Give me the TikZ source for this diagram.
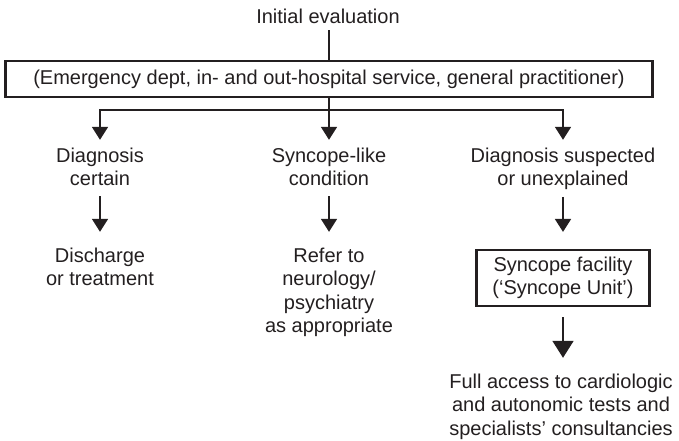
\documentclass[tikz,border=0pt]{standalone}
\usepackage{fontspec}
\setmainfont{Liberation Sans}
\usetikzlibrary{arrows.meta}
\definecolor{ink}{RGB}{35,31,32}
\begin{document}
\begin{tikzpicture}[x=1pt,y=-1pt,
  every node/.style={text=ink, font=\fontsize{20}{23.5}\selectfont},
  % multi-line labels sit on the baseline of their last line
  lbl/.style={align=center, inner sep=0pt, anchor=base},
  frame/.style={draw=ink, line width=2.2pt, inner sep=0pt, align=center},
  link/.style={draw=ink, line width=1.8pt},
  arr/.style={link, -{Triangle[width=16pt,length=13pt]}},
  bigarr/.style={link, -{Triangle[width=21pt,length=17pt]}},
]
\useasboundingbox (0,0) rectangle (679,441);

% top level
\node[lbl] (init) at (328,24) {Initial evaluation};
\node[frame, minimum width=647pt, minimum height=36pt] (main) at (329,79)
  {(Emergency dept, in- and out-hospital service, general practitioner)};
\coordinate (fork) at (329,110);

% first tier
\node[lbl] (d1) at (100,185.5) {Diagnosis\\certain};
\node[lbl] (d2) at (329,185.5) {Syncope-like\\condition};
\node[lbl] (d3) at (563,185.5) {Diagnosis suspected\\or unexplained};

% second tier
\node[lbl] (e1) at (100,285.5) {Discharge\\or treatment};
\node[lbl] (e2) at (329,332.5) {Refer to\\neurology/\\psychiatry\\as appropriate};
\node[frame, minimum width=173pt, minimum height=56pt] (unit) at (563,278)
  {Syncope facility\\(‘Syncope Unit’)};
\node[lbl] (full) at (561,435)
  {Full access to cardiologic\\and autonomic tests and\\specialists’ consultancies};

% connectors
\draw[link, shorten <=6pt] (init.south -| main.north) -- (main.north);
\draw[link] (main.south) -- (fork);
\draw[arr, shorten >=7.5pt] (fork) -| (d1.north);
\draw[arr, shorten >=7.5pt] (fork) -- (d2.north);
\draw[arr, shorten >=7.5pt] (fork) -| (d3.north);

\draw[arr, shorten <=10.5pt, shorten >=15.5pt] (d1.south) -- (e1.north);
\draw[arr, shorten <=10.5pt, shorten >=15.5pt] (d2.south) -- (e2.north);
\draw[arr, shorten <=7pt, shorten >=17pt] (d3.south) -- (unit.north);
\draw[bigarr, shorten <=10pt, shorten >=15.5pt] (unit.south) -- (unit.south |- full.north);
\end{tikzpicture}
\end{document}
